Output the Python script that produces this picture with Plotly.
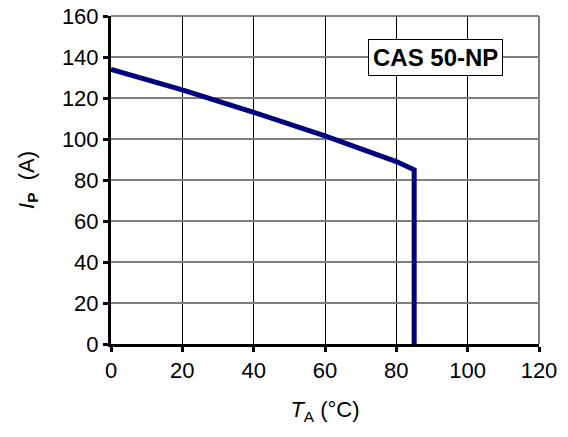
import plotly.graph_objects as go

temp_c = [0, 20, 40, 60, 80, 85, 85]
current_a = [134, 124, 113, 101.5, 89, 85, 0]
x_ticks = [0, 20, 40, 60, 80, 100, 120]
y_ticks = [0, 20, 40, 60, 80, 100, 120, 140, 160]

fig = go.Figure()
fig.add_trace(go.Scatter(x=temp_c, y=current_a, mode="lines",
                         line=dict(color="#000080", width=5), showlegend=False))

font = "Liberation Sans, Arial, sans-serif"
fig.update_layout(
    width=568, height=437,
    margin=dict(l=111, r=29, t=16, b=93),
    paper_bgcolor="white", plot_bgcolor="white",
    font=dict(family=font, size=22, color="black"),
    xaxis=dict(range=[0, 120], tickvals=x_ticks, showgrid=True, gridcolor="black", gridwidth=1,
               showline=True, linecolor="black", linewidth=3, ticks="outside", ticklen=5,
               tickwidth=3, tickcolor="black", zeroline=False, automargin=False,
               tickfont=dict(size=22),
               title=dict(text="<i>T</i><sub>A</sub> (°C)", font=dict(size=22), standoff=20)),
    yaxis=dict(range=[0, 160], tickvals=y_ticks, showgrid=True, gridcolor="#808080", gridwidth=2,
               showline=True, linecolor="black", linewidth=3, ticks="outside", ticklen=5,
               tickwidth=3, tickcolor="black", zeroline=False, automargin=False,
               tickfont=dict(size=22),
               title=dict(text="<i>I</i><sub><b>P</b></sub>  (A)", font=dict(size=22), standoff=22)),
    shapes=[dict(type="line", xref="paper", yref="paper", x0=1, x1=1, y0=0, y1=1,
                 line=dict(color="#808080", width=2), layer="below"),
            dict(type="line", xref="paper", yref="paper", x0=0, x1=1, y0=1, y1=1,
                 line=dict(color="#808080", width=2), layer="below")],
    annotations=[dict(x=110.0, y=139.8, xref="x", yref="y", text="<b>CAS 50-NP</b>",
                      showarrow=False, font=dict(size=24, color="black"), bgcolor="white",
                      bordercolor="black", borderwidth=1, borderpad=4, xanchor="right")],
)
fig.write_html("out.html", config={"displayModeBar": False},
               post_script="document.body.style.margin='0';")
